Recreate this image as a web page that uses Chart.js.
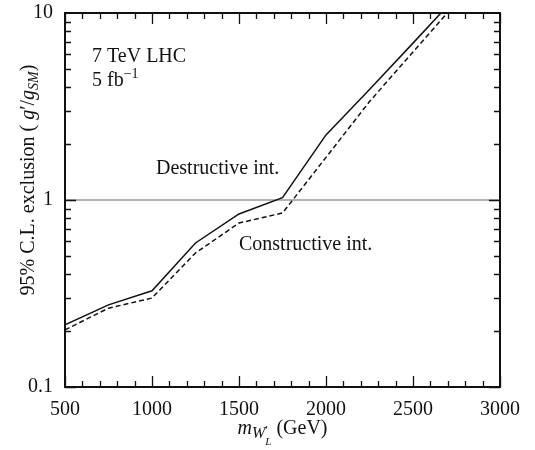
<!DOCTYPE html>
<html>
<head>
<meta charset="utf-8">
<script src="https://cdn.jsdelivr.net/npm/chart.js@4.4.0/dist/chart.umd.min.js"></script>
<style>
  html, body { margin: 0; background: #fff; }
  #wrap { width: 535px; height: 450px; }
</style>
</head>
<body>
<div id="wrap"><canvas id="c"></canvas></div>
<script>
// W'_L mass points (GeV) and 95% C.L. limits on g'/g_SM
const massGeV      = [500, 750, 1000, 1250, 1500, 1750, 2000, 2250, 2500, 2750];
const destructive  = [0.215, 0.275, 0.327, 0.589, 0.842, 1.03, 2.23, 3.9, 6.9, 12.3];
const constructive = [0.202, 0.264, 0.299, 0.521, 0.753, 0.852, 1.69, 3.36, 6.18, 11.4];
const unitLine     = [1, 1];
const unitLineX    = [500, 3000];
const xTickLabels  = [500, 1000, 1500, 2000, 2500, 3000];
const yTickLabels  = [0.1, 1, 10];

const SERIF = "'Liberation Serif', 'DejaVu Serif', serif";
const FS = 20;

const pts = (xs, ys) => xs.map((x, i) => ({ x, y: ys[i] }));

/* ── rich text: runs of {t, it, s (scale), dy (em), stack} ─────── */
function drawRich(ctx, parts, x, y, size, measureOnly) {
  let cx = x, stackX = null, stackW = 0;
  for (const p of parts) {
    const s = p.s || 1;
    ctx.font = `${p.it ? 'italic ' : ''}${Math.round(size * s)}px ${SERIF}`;
    const w = ctx.measureText(p.t).width;
    const px = stackX !== null ? stackX : cx;
    if (!measureOnly) ctx.fillText(p.t, px, y + (p.dy || 0) * size);
    if (p.stack) { stackX = px; stackW = w; cx = px + w; }
    else if (stackX !== null) { cx = stackX + Math.max(w, stackW); stackX = null; }
    else cx += w;
  }
  return cx - x;
}

const yTitle = [
  { t: '95% C.L. exclusion ( ' },
  { t: 'g', it: true }, { t: '\u2032' }, { t: '/' },
  { t: 'g', it: true }, { t: 'SM', it: true, s: 0.72, dy: 0.22 },
  { t: ')' },
];
const xTitle = [
  { t: 'm', it: true },
  { t: 'W', it: true, s: 0.78, dy: 0.2 },
  { t: '\u2032', s: 0.62, dy: 0.02, stack: true },
  { t: 'L', it: true, s: 0.55, dy: 0.55 },
  { t: ' (GeV)' },
];
const notes = [
  { x: 1023, y: 1.377, parts: [{ t: 'Destructive int.' }] },
  { x: 1500, y: 0.54, parts: [{ t: 'Constructive int.' }] },
];

/* ── frame, inward ticks, titles and notes ─────────────────────── */
const decorations = {
  id: 'decorations',
  afterDraw(chart) {
    const { ctx, chartArea: a, scales: { x, y } } = chart;
    ctx.save();
    ctx.strokeStyle = '#111';
    ctx.fillStyle = '#111';

    ctx.lineWidth = 1.3;
    ctx.beginPath();
    for (let v = 500; v <= 3000; v += 100) {
      const px = Math.round(x.getPixelForValue(v)) + 0.5;
      const len = v % 500 === 0 ? 11 : 6;
      ctx.moveTo(px, a.bottom); ctx.lineTo(px, a.bottom - len);
      ctx.moveTo(px, a.top); ctx.lineTo(px, a.top + len);
    }
    for (let dec = 0.1; dec < 10; dec *= 10) {
      for (let m = 1; m <= 9; m++) {
        const py = Math.round(y.getPixelForValue(dec * m)) + 0.5;
        const len = m === 1 ? 11 : 6;
        ctx.moveTo(a.left, py); ctx.lineTo(a.left + len, py);
        ctx.moveTo(a.right, py); ctx.lineTo(a.right - len, py);
      }
    }
    ctx.stroke();

    ctx.lineWidth = 2;
    ctx.strokeRect(a.left, a.top, a.right - a.left, a.bottom - a.top);

    ctx.textBaseline = 'alphabetic';
    ctx.textAlign = 'left';

    // run info
    drawRich(ctx, [{ t: '7 TeV LHC' }], a.left + 27, 62, FS);
    drawRich(ctx, [{ t: '5 fb' }, { t: '\u22121', s: 0.7, dy: -0.4 }], a.left + 27, 86, FS);

    for (const n of notes) {
      drawRich(ctx, n.parts, x.getPixelForValue(n.x), y.getPixelForValue(n.y), FS);
    }

    // x axis title
    const xw = drawRich(ctx, xTitle, 0, 0, FS, true);
    drawRich(ctx, xTitle, (a.left + a.right) / 2 - xw / 2, 434, FS);

    // y axis title
    const yw = drawRich(ctx, yTitle, 0, 0, FS, true);
    ctx.translate(34, 180);
    ctx.rotate(-Math.PI / 2);
    drawRich(ctx, yTitle, -yw / 2, 0, FS);
    ctx.restore();
  },
};

new Chart(document.getElementById('c'), {
  type: 'line',
  data: {
    datasets: [
      { data: pts(massGeV, destructive), borderColor: '#111', borderWidth: 1.5 },
      { data: pts(massGeV, constructive), borderColor: '#111', borderWidth: 1.5, borderDash: [5, 3] },
      { data: pts(unitLineX, unitLine), borderColor: '#666', borderWidth: 1.2 },
    ],
  },
  options: {
    responsive: true,
    maintainAspectRatio: false,
    animation: false,
    layout: { padding: { top: 13, right: 35, left: 0, bottom: 0 } },
    elements: { point: { radius: 0 }, line: { tension: 0 } },
    plugins: { legend: { display: false }, tooltip: { enabled: false } },
    scales: {
      x: {
        type: 'linear', min: 500, max: 3000,
        grid: { display: false, drawTicks: false },
        border: { display: false },
        ticks: {
          stepSize: 500, padding: 11, color: '#111',
          font: { family: SERIF, size: FS },
          callback: v => xTickLabels.includes(v) ? String(v) : '',
        },
        afterFit: s => { s.height = 63; s.paddingLeft = 0; s.paddingRight = 0; },
      },
      y: {
        type: 'logarithmic', min: 0.1, max: 10,
        grid: { display: false, drawTicks: false },
        border: { display: false },
        ticks: {
          padding: 12, color: '#111', autoSkip: false,
          font: { family: SERIF, size: FS },
          callback: v => yTickLabels.includes(v) ? String(v) : '',
        },
        afterFit: s => { s.width = 65; s.paddingTop = 0; s.paddingBottom = 0; },
      },
    },
  },
  plugins: [decorations],
});
</script>
</body>
</html>
